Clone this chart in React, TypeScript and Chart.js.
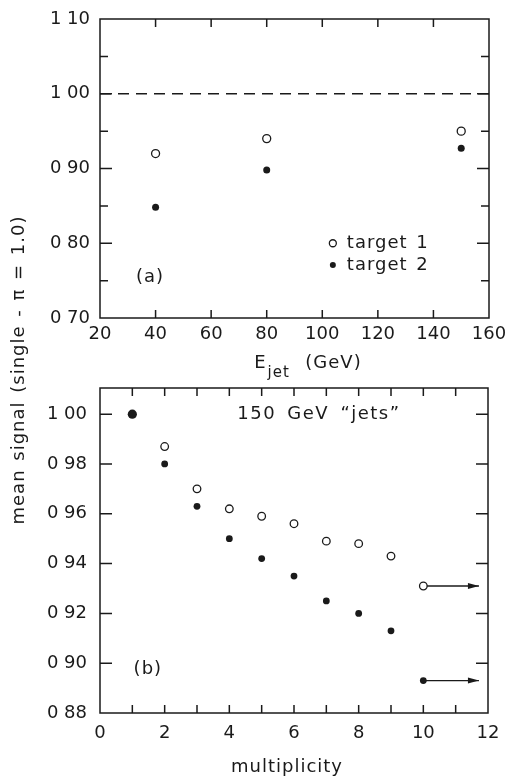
import { useEffect, useRef } from "react";
import { Chart, registerables } from "chart.js";
Chart.register(...registerables);

// ---------- Panel (a): mean signal vs jet energy ----------
const energies = [40, 80, 150];
const target1 = [0.92, 0.94, 0.95];
const target2 = [0.848, 0.898, 0.927];
const seriesLabels = ["target 1", "target 2"];
const refLevel = 1.0;
const energyMin = 20;
const energyMax = 160;

// ---------- Panel (b): mean signal vs multiplicity ----------
const multiplicity = [2, 3, 4, 5, 6, 7, 8, 9, 10];
const openSignal = [0.987, 0.970, 0.962, 0.959, 0.956, 0.949, 0.948, 0.943, 0.931];
const filledSignal = [0.980, 0.963, 0.950, 0.942, 0.935, 0.925, 0.920, 0.913, 0.893];
const singleMult = [1];
const singleSignal = [1.0];
const arrowStart = 10;
const arrowEnd = 11.72;
const panelBTitle = "150 GeV \u201Cjets\u201D";

const INK = "#1a1a1a";
const FAMILY = '"DejaVu Sans", sans-serif';
const FONT = `18px ${FAMILY}`;

const fmt = (v: number) => v.toFixed(2).replace(".", " ");
const isMult = (v: number, step: number) => Math.abs(v / step - Math.round(v / step)) < 1e-6;

function frameTicks(cfg: { xLen: number; yLen: (v: number) => number }) {
  return {
    id: "frameTicks",
    afterDatasetsDraw(chart: any) {
      const { ctx, chartArea: a, scales } = chart;
      const x = scales.x;
      const y = scales.y;
      ctx.save();
      ctx.strokeStyle = INK;
      ctx.lineWidth = 1.5;
      ctx.beginPath();
      x.ticks.forEach((t: any) => {
        const px = x.getPixelForValue(t.value);
        if (px <= a.left + 1 || px >= a.right - 1) return;
        ctx.moveTo(px, a.bottom);
        ctx.lineTo(px, a.bottom - cfg.xLen);
        ctx.moveTo(px, a.top);
        ctx.lineTo(px, a.top + cfg.xLen);
      });
      y.ticks.forEach((t: any) => {
        const py = y.getPixelForValue(t.value);
        if (py <= a.top + 1 || py >= a.bottom - 1) return;
        const len = cfg.yLen(t.value);
        ctx.moveTo(a.left, py);
        ctx.lineTo(a.left + len, py);
        ctx.moveTo(a.right, py);
        ctx.lineTo(a.right - len, py);
      });
      ctx.stroke();
      ctx.strokeRect(a.left, a.top, a.right - a.left, a.bottom - a.top);
      ctx.restore();
    },
  };
}

function openCircle(ctx: CanvasRenderingContext2D, x: number, y: number, r: number) {
  ctx.beginPath();
  ctx.arc(x, y, r, 0, Math.PI * 2);
  ctx.fillStyle = "#fff";
  ctx.fill();
  ctx.strokeStyle = INK;
  ctx.lineWidth = 1.3;
  ctx.stroke();
}
function dot(ctx: CanvasRenderingContext2D, x: number, y: number, r: number) {
  ctx.beginPath();
  ctx.arc(x, y, r, 0, Math.PI * 2);
  ctx.fillStyle = INK;
  ctx.fill();
}

function setSpacing(ctx: any, letter: string, word: string) {
  ctx.letterSpacing = letter;
  ctx.wordSpacing = word;
}

const panelAText = {
  id: "panelAText",
  afterDraw(chart: any) {
    const { ctx, scales } = chart;
    const x = scales.x;
    const y = scales.y;
    ctx.save();
    setSpacing(ctx, "1px", "2px");
    ctx.font = FONT;
    ctx.fillStyle = INK;
    ctx.textBaseline = "middle";
    ctx.textAlign = "center";
    ctx.fillText("(a)", x.getPixelForValue(38), y.getPixelForValue(0.755));
    // legend
    const lx = x.getPixelForValue(103.8);
    const ly1 = y.getPixelForValue(0.8);
    const ly2 = y.getPixelForValue(0.771);
    openCircle(ctx, lx, ly1, 3.5);
    dot(ctx, lx, ly2, 3);
    ctx.fillStyle = INK;
    ctx.textAlign = "left";
    ctx.font = FONT;
    ctx.fillText(seriesLabels[0], lx + 14, ly1);
    ctx.fillText(seriesLabels[1], lx + 14, ly2);
    // x title E_jet (GeV)
    const big = FONT;
    const small = `15px ${FAMILY}`;
    const ty = x.bottom - 17;
    let sx = x.getPixelForValue(75.5);
    ctx.font = big;
    const wE = ctx.measureText("E").width;
    ctx.fillText("E", sx, ty);
    sx += wE + 1;
    ctx.font = small;
    const wj = ctx.measureText("jet").width;
    ctx.fillText("jet", sx, ty + 10);
    sx += wj;
    ctx.font = big;
    ctx.fillText("  (GeV)", sx - 2, ty);
    ctx.restore();
  },
};

const panelBText = {
  id: "panelBText",
  afterDraw(chart: any) {
    const { ctx, scales } = chart;
    const x = scales.x;
    const y = scales.y;
    ctx.save();
    ctx.font = FONT;
    ctx.fillStyle = INK;
    ctx.textBaseline = "middle";
    ctx.textAlign = "center";
    setSpacing(ctx, "1px", "2px");
    ctx.fillText("(b)", x.getPixelForValue(1.48), y.getPixelForValue(0.8975));
    ctx.fillText("multiplicity", (chart.chartArea.left + chart.chartArea.right) / 2 - 7, x.bottom - 10);
    setSpacing(ctx, "1.5px", "4px");
    ctx.fillText(panelBTitle, x.getPixelForValue(6.77), y.getPixelForValue(1.0));
    ctx.restore();
  },
};

const arrowHeads = {
  id: "arrowHeads",
  afterDatasetsDraw(chart: any) {
    const { ctx } = chart;
    chart.data.datasets.forEach((ds: any, i: number) => {
      if (!ds.isArrow) return;
      const pts = chart.getDatasetMeta(i).data;
      const end = pts[pts.length - 1];
      ctx.save();
      ctx.fillStyle = INK;
      ctx.beginPath();
      ctx.moveTo(end.x, end.y);
      ctx.lineTo(end.x - 11, end.y - 3);
      ctx.lineTo(end.x - 11, end.y + 3);
      ctx.closePath();
      ctx.fill();
      ctx.restore();
    });
  },
};

const tickFont = { family: FAMILY, size: 18 };

const fitX = (h: number) => (s: any) => {
  s.height = h;
  s.paddingLeft = 0;
  s.paddingRight = 0;
};
const fitY = (w: number) => (s: any) => {
  s.width = w;
  s.paddingTop = 0;
  s.paddingBottom = 0;
};

export default function App() {
  const topRef = useRef<HTMLCanvasElement>(null);
  const botRef = useRef<HTMLCanvasElement>(null);

  useEffect(() => {
    const chartA = new Chart(topRef.current!, {
      type: "scatter",
      data: {
        datasets: [
          {
            label: seriesLabels[0],
            data: energies.map((e, i) => ({ x: e, y: target1[i] })),
            pointRadius: 4,
            pointBackgroundColor: "#fff",
            pointBorderColor: INK,
            pointBorderWidth: 1.3,
          },
          {
            label: seriesLabels[1],
            data: energies.map((e, i) => ({ x: e, y: target2[i] })),
            pointRadius: 3.5,
            pointBackgroundColor: INK,
            pointBorderColor: INK,
            pointBorderWidth: 0,
          },
          {
            label: "ref",
            type: "line",
            data: [
              { x: energyMin, y: refLevel },
              { x: energyMax, y: refLevel },
            ],
            borderColor: INK,
            borderWidth: 1.5,
            borderDash: [11, 7],
            pointRadius: 0,
            fill: false,
          } as any,
        ],
      },
      options: {
        responsive: false,
        animation: false,
        devicePixelRatio: 1,
        layout: { padding: { left: 0, right: 18, top: 19, bottom: 0 } },
        plugins: { legend: { display: false }, tooltip: { enabled: false } },
        scales: {
          x: {
            type: "linear",
            min: energyMin,
            max: energyMax,
            grid: { display: false, drawTicks: false },
            border: { display: false },
            ticks: { stepSize: 20, padding: 6, color: INK, font: tickFont, maxRotation: 0, autoSkip: false },
            afterFit: fitX(62),
          },
          y: {
            type: "linear",
            min: 0.7,
            max: 1.1,
            grid: { display: false, drawTicks: false },
            border: { display: false },
            ticks: {
              stepSize: 0.05,
              padding: 10,
              color: INK,
              font: tickFont,
              autoSkip: false,
              callback: (v: any) => (isMult(Number(v), 0.1) ? fmt(Number(v)) : ""),
            },
            afterFit: fitY(100),
          },
        },
      } as any,
      plugins: [frameTicks({ xLen: 8, yLen: (v) => (isMult(v, 0.1) ? 12 : 8) }), panelAText],
    });

    const chartB = new Chart(botRef.current!, {
      type: "scatter",
      data: {
        datasets: [
          {
            label: "open",
            data: multiplicity.map((m, i) => ({ x: m, y: openSignal[i] })),
            pointRadius: 3.8,
            pointBackgroundColor: "#fff",
            pointBorderColor: INK,
            pointBorderWidth: 1.3,
          },
          {
            label: "filled",
            data: multiplicity.map((m, i) => ({ x: m, y: filledSignal[i] })),
            pointRadius: 3.4,
            pointBackgroundColor: INK,
            pointBorderColor: INK,
            pointBorderWidth: 0,
          },
          {
            label: "single",
            data: singleMult.map((m, i) => ({ x: m, y: singleSignal[i] })),
            pointRadius: 4.6,
            pointBackgroundColor: INK,
            pointBorderColor: INK,
            pointBorderWidth: 0,
          },
          {
            label: "arrow open",
            type: "line",
            isArrow: true,
            data: [
              { x: arrowStart, y: openSignal[openSignal.length - 1] },
              { x: arrowEnd, y: openSignal[openSignal.length - 1] },
            ],
            borderColor: INK,
            borderWidth: 1.3,
            pointRadius: 0,
            fill: false,
          } as any,
          {
            label: "arrow filled",
            type: "line",
            isArrow: true,
            data: [
              { x: arrowStart, y: filledSignal[filledSignal.length - 1] },
              { x: arrowEnd, y: filledSignal[filledSignal.length - 1] },
            ],
            borderColor: INK,
            borderWidth: 1.3,
            pointRadius: 0,
            fill: false,
          } as any,
        ],
      },
      options: {
        responsive: false,
        animation: false,
        devicePixelRatio: 1,
        layout: { padding: { left: 0, right: 19, top: 13, bottom: 0 } },
        plugins: { legend: { display: false }, tooltip: { enabled: false } },
        scales: {
          x: {
            type: "linear",
            min: 0,
            max: 12,
            grid: { display: false, drawTicks: false },
            border: { display: false },
            ticks: {
              stepSize: 1,
              padding: 10,
              color: INK,
              font: tickFont,
              maxRotation: 0,
              autoSkip: false,
              callback: (v: any) => (Number(v) % 2 === 0 ? String(v) : ""),
            },
            afterFit: fitX(64),
          },
          y: {
            type: "linear",
            min: 0.88,
            max: 1.0105,
            grid: { display: false, drawTicks: false },
            border: { display: false },
            ticks: {
              stepSize: 0.02,
              includeBounds: false,
              padding: 13,
              color: INK,
              font: tickFont,
              autoSkip: false,
              callback: (v: any) => (isMult(Number(v), 0.02) ? fmt(Number(v)) : ""),
            },
            afterFit: fitY(100),
          },
        },
      } as any,
      plugins: [frameTicks({ xLen: 8, yLen: () => 12 }), arrowHeads, panelBText],
    });

    return () => {
      chartA.destroy();
      chartB.destroy();
    };
  }, []);

  return (
    <div
      style={{
        position: "absolute",
        left: 0,
        top: 0,
        width: 507,
        height: 777,
        background: "#fff",
        overflow: "hidden",
      }}
    >
      <canvas ref={topRef} width={507} height={380} style={{ position: "absolute", left: 0, top: 0 }} />
      <canvas ref={botRef} width={507} height={402} style={{ position: "absolute", left: 0, top: 375 }} />
      <div
        style={{
          position: "absolute",
          left: 18 - 200,
          top: 370 - 11,
          width: 400,
          height: 22,
          lineHeight: "22px",
          textAlign: "center",
          transform: "rotate(-90deg)",
          font: FONT,
          letterSpacing: "1px",
          wordSpacing: "2px",
          color: INK,
          whiteSpace: "nowrap",
        }}
      >
        mean signal (single - π = 1.0)
      </div>
    </div>
  );
}
